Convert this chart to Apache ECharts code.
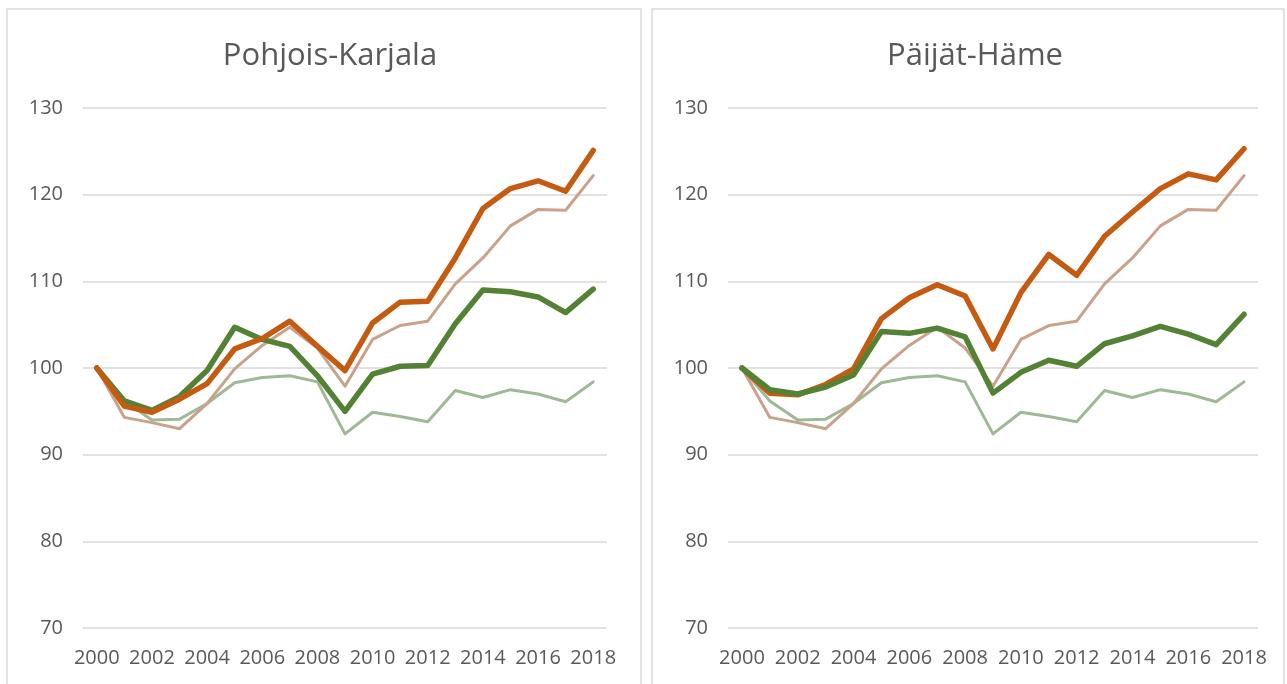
<!DOCTYPE html>
<html>
<head>
<meta charset="utf-8">
<script src="https://cdn.jsdelivr.net/npm/echarts@6/dist/echarts.min.js"></script>
<style>
  html, body { margin: 0; padding: 0; background: #fff; }
  #main { width: 1287px; height: 684px; }
</style>
</head>
<body>
<div id="main"></div>
<script>
var years = ['2000','2001','2002','2003','2004','2005','2006','2007','2008','2009',
             '2010','2011','2012','2013','2014','2015','2016','2017','2018']
var yTicks = [70, 80, 90, 100, 110, 120, 130]

// shared background lines (same in both panels)
var brownThin = [100, 94.3, 93.7, 93.0, 95.9, 99.9, 102.6, 104.7, 102.3, 97.9,
                 103.3, 104.9, 105.4, 109.7, 112.7, 116.4, 118.3, 118.2, 122.2]
var greenThin = [100, 96.2, 94.0, 94.1, 95.9, 98.3, 98.9, 99.1, 98.4, 92.4,
                 94.9, 94.4, 93.8, 97.4, 96.6, 97.5, 97.0, 96.1, 98.4]

// Pohjois-Karjala
var pkOrange = [100, 95.6, 94.9, 96.4, 98.2, 102.2, 103.4, 105.4, 102.5, 99.7,
                105.2, 107.6, 107.7, 112.7, 118.4, 120.7, 121.6, 120.4, 125.1]
var pkGreen = [100, 96.2, 95.1, 96.7, 99.7, 104.7, 103.3, 102.5, 99.1, 95.0,
               99.3, 100.2, 100.3, 105.1, 109.0, 108.8, 108.2, 106.4, 109.1]

// Päijät-Häme
var phOrange = [100, 97.1, 96.9, 98.1, 99.9, 105.7, 108.1, 109.6, 108.3, 102.2,
                108.7, 113.1, 110.7, 115.2, 118.0, 120.7, 122.4, 121.7, 125.3]
var phGreen = [100, 97.5, 97.0, 97.8, 99.2, 104.2, 104.0, 104.6, 103.6, 97.1,
               99.5, 100.9, 100.2, 102.8, 103.7, 104.8, 103.9, 102.7, 106.2]

var titles = ['Pohjois-Karjala', 'Päijät-Häme']

var textColor = '#595959'
var fontFam = '"Open Sans", sans-serif'

function xAxisFor(idx) {
  return {
    type: 'category',
    gridIndex: idx,
    data: years,
    boundaryGap: true,
    axisLine: { show: false },
    axisTick: { show: false },
    axisLabel: { interval: 1, color: textColor, fontSize: 20, fontFamily: fontFam, margin: 20 }
  }
}
function yAxisFor(idx) {
  return {
    type: 'value',
    gridIndex: idx,
    min: yTicks[0],
    max: yTicks[yTicks.length - 1],
    interval: 10,
    axisLine: { show: false },
    axisTick: { show: false },
    axisLabel: { color: textColor, fontSize: 20, fontFamily: fontFam, margin: 20 },
    splitLine: { lineStyle: { color: '#d9d9d9', width: 1.5 } }
  }
}
function line(idx, data, color, width, z) {
  return {
    type: 'line',
    xAxisIndex: idx,
    yAxisIndex: idx,
    data: data,
    symbol: 'none',
    z: z,
    lineStyle: { color: color, width: width, cap: 'round', join: 'round' },
    animation: false
  }
}

var chart = echarts.init(document.getElementById('main'))
var option = {
  animation: false,
  title: [
    { text: titles[0], left: 325, top: 36, textAlign: 'center',
      textStyle: { color: textColor, fontSize: 31, fontWeight: 'normal', fontFamily: fontFam } },
    { text: titles[1], left: 970, top: 36, textAlign: 'center',
      textStyle: { color: textColor, fontSize: 31, fontWeight: 'normal', fontFamily: fontFam } }
  ],
  graphic: [
    { type: 'rect', shape: { x: 7, y: 9, width: 634, height: 690 },
      style: { fill: 'none', stroke: '#d9d9d9', lineWidth: 1.5 }, silent: true },
    { type: 'rect', shape: { x: 652, y: 9, width: 632, height: 690 },
      style: { fill: 'none', stroke: '#d9d9d9', lineWidth: 1.5 }, silent: true }
  ],
  grid: [
    { left: 83, right: 680, top: 108, bottom: 56 },
    { left: 728, right: 29, top: 108, bottom: 56 }
  ],
  xAxis: [xAxisFor(0), xAxisFor(1)],
  yAxis: [yAxisFor(0), yAxisFor(1)],
  series: [
    line(0, greenThin, '#9fb896', 3, 2),
    line(0, brownThin, '#c9a28c', 3, 2),
    line(0, pkGreen, '#548235', 5.5, 3),
    line(0, pkOrange, '#c55a11', 5.5, 3),
    line(1, greenThin, '#9fb896', 3, 2),
    line(1, brownThin, '#c9a28c', 3, 2),
    line(1, phOrange, '#c55a11', 5.5, 3),
    line(1, phGreen, '#548235', 5.5, 3)
  ]
}
option && chart.setOption(option)
</script>
</body>
</html>
